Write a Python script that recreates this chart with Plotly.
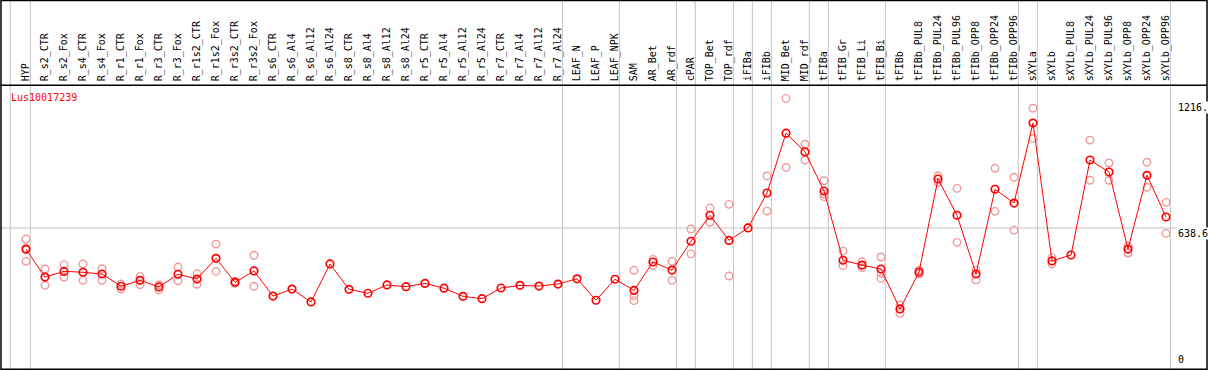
import plotly.graph_objects as go

categories = ["HYP", "R_s2_CTR", "R_s2_Fox", "R_s4_CTR", "R_s4_Fox", "R_r1_CTR", "R_r1_Fox",
              "R_r3_CTR", "R_r3_Fox", "R_r1s2_CTR", "R_r1s2_Fox", "R_r3s2_CTR", "R_r3s2_Fox",
              "R_s6_CTR", "R_s6_Al4", "R_s6_Al12", "R_s6_Al24", "R_s8_CTR", "R_s8_Al4",
              "R_s8_Al12", "R_s8_Al24", "R_r5_CTR", "R_r5_Al4", "R_r5_Al12", "R_r5_Al24",
              "R_r7_CTR", "R_r7_Al4", "R_r7_Al12", "R_r7_Al24", "LEAF_N", "LEAF_P", "LEAF_NPK",
              "SAM", "AR_Bet", "AR_rdf", "cPAR", "TOP_Bet", "TOP_rdf", "iFIBa", "iFIBb",
              "MID_Bet", "MID_rdf", "tFIBa", "tFIB_Gr", "tFIB_Li", "tFIB_Bi", "tFIBb",
              "tFIBb_PUL8", "tFIBb_PUL24", "tFIBb_PUL96", "tFIBb_OPP8", "tFIBb_OPP24",
              "tFIBb_OPP96", "sXYLa", "sXYLb", "sXYLb_PUL8", "sXYLb_PUL24", "sXYLb_PUL96",
              "sXYLb_OPP8", "sXYLb_OPP24", "sXYLb_OPP96"]

mean_values = [541, 414, 440, 436, 428, 372, 399, 369, 427, 405, 500, 390, 442,
               327, 359, 300, 474, 358, 340, 378, 370, 385, 363, 326, 315,
               364, 376, 373, 382, 406, 308, 404,
               353, 483, 446, 578, 697, 582, 639, 799, 1073, 987,
               808, 491, 469, 451, 268, 437, 863, 697, 428, 816, 753,
               1119, 488, 515, 950, 895, 542, 880, 689]

replicates = [
    [588, 547, 486], [451, 376], [471, 414], [474, 399], [452, 399], [382, 359],
    [417, 379], [379, 355], [460, 397], [429, 381], [565, 440], [395, 385], [514, 372],
    [], [], [], [], [], [], [], [], [], [], [], [], [], [], [], [], [], [], [],
    [445, 329, 306], [495, 466], [486, 399], [634, 520], [730, 665], [747, 419], [],
    [877, 716], [1232, 916], [1022, 950], [855, 794, 782], [533, 466], [484, 457],
    [506, 431, 408], [286, 248], [446, 428], [878, 848], [820, 573], [446, 401],
    [912, 715], [871, 629], [1187, 1049], [503, 474], [], [1041, 857], [936, 857],
    [556, 524], [940, 825], [756, 614]]

separators_after = [-1.06, 0, 28, 31, 34, 35, 37, 38, 39, 41, 42, 45, 52, 53, 60]

y_ticks = [0, 638.6, 1216]
y_tick_text = ["0", "638.6", "1216."]
gene = "Lus10017239"

W, H = 1209, 370
font = "DejaVu Sans Mono"

rep_x, rep_y = [], []
for i, reps in enumerate(replicates):
    for v in reps:
        rep_x.append(i)
        rep_y.append(v)

fig = go.Figure()
fig.add_trace(go.Scatter(
    x=rep_x, y=rep_y, mode="markers",
    marker=dict(symbol="circle-open", size=7.5, color="#f09a9a", line=dict(width=1.4)),
    hoverinfo="skip", showlegend=False))
fig.add_trace(go.Scatter(
    x=list(range(len(categories))), y=mean_values, mode="lines+markers",
    line=dict(color="#ff0000", width=1),
    marker=dict(symbol="circle-open", size=7.5, color="#ff0000", line=dict(width=1.7)),
    showlegend=False))

px0, step = 26.0, 19.0
x_range = [-px0 / step, (W - px0) / step]
plot_top_px, plot_bot_px = 85.3, 368.7

shapes = []
for s in separators_after:
    shapes.append(dict(type="line", xref="x", yref="paper", x0=s + 0.23, x1=s + 0.23,
                       y0=0, y1=1, line=dict(color="#c4c4c4", width=1), layer="below"))
shapes.append(dict(type="line", xref="paper", yref="y", x0=0, x1=1177 / W,
                   y0=y_ticks[1], y1=y_ticks[1], line=dict(color="#c4c4c4", width=1), layer="below"))
# frame
shapes.append(dict(type="rect", xref="paper", yref="paper", x0=1 / W, x1=1207 / W,
                   y0=0.8 / H, y1=1 - 0.5 / H, line=dict(color="black", width=1.5)))
shapes.append(dict(type="line", xref="paper", yref="paper", x0=0, x1=1207 / W,
                   y0=1 - plot_top_px / H, y1=1 - plot_top_px / H,
                   line=dict(color="black", width=1.5)))

annotations = [dict(text=gene, xref="paper", yref="paper", x=9 / W, y=1 - 97 / H,
                    xanchor="left", yanchor="middle", showarrow=False,
                    font=dict(family=font, size=10, color="#ff0000"))]
for v, t in zip(y_ticks, y_tick_text):
    annotations.append(dict(text=t, xref="paper", yref="y", x=1177 / W, y=v,
                            xanchor="left", yanchor="bottom" if v == 0 else "top",
                            yshift=2 if v == 0 else 1,
                            showarrow=False, bgcolor="white", borderpad=0,
                            font=dict(family=font, size=10, color="black")))

fig.update_layout(
    width=W, height=H, margin=dict(l=0, r=0, t=0, b=0),
    paper_bgcolor="white", plot_bgcolor="white",
    xaxis=dict(range=x_range, domain=[0, 1], side="top", tickmode="array",
               tickvals=list(range(len(categories))), ticktext=categories,
               tickangle=-90, ticks="", showgrid=False, zeroline=False, showline=False,
               automargin=False, ticklabelstandoff=3,
               tickfont=dict(family=font, size=10, color="black")),
    yaxis=dict(range=[-5.5, 1292], domain=[1 - plot_bot_px / H, 1 - plot_top_px / H],
               showticklabels=False, showgrid=False, zeroline=False, showline=False,
               automargin=False),
    shapes=shapes, annotations=annotations,
)

fig.write_html("out.html", config={"displayModeBar": False},
               post_script="document.body.style.margin='0px';document.body.style.overflow='hidden';")
